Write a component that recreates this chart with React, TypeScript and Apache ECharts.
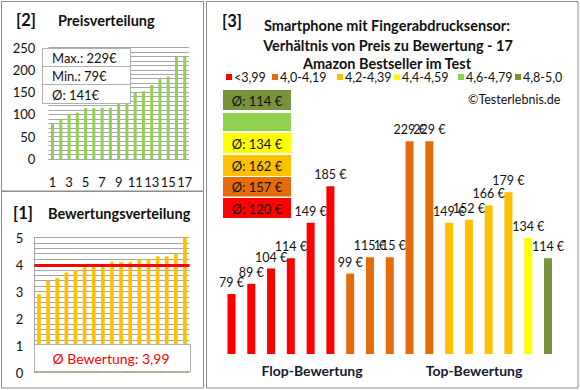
import React, { useEffect, useRef } from "react";
import * as echarts from "echarts";

const positions = ["1","2","3","4","5","6","7","8","9","10","11","12","13","14","15","16","17"];
const sortedPrices = [79, 89, 99, 104, 114, 114, 115, 115, 134, 149, 149, 152, 166, 179, 185, 229, 229];
const sortedRatings = [2.9, 3.4, 3.5, 3.7, 3.8, 3.9, 4.0, 4.0, 4.1, 4.1, 4.1, 4.2, 4.2, 4.3, 4.3, 4.4, 5.0];
const avgRating = 3.99;
const productPrices = [79, 89, 104, 114, 149, 185, 99, 115, 115, 229, 229, 149, 152, 166, 179, 134, 114];
const productGroups = [0, 0, 0, 0, 0, 0, 1, 1, 1, 1, 1, 2, 2, 2, 2, 3, 5];
const groupLabels = ["<3,99", "4,0-4,19", "4,2-4,39", "4,4-4,59", "4,6-4,79", "4,8-5,0"];
const groupColors = ["#FF0000", "#E46C0A", "#FFC000", "#FFFF00", "#92D050", "#77933C"];

const FONT = 'Lato, "Liberation Sans", sans-serif';
const DARK = "#111";
const BORDER = "#8c8c8c";

function groupAvg(g: number): number | null {
  const vals = productPrices.filter((_, i) => productGroups[i] === g);
  if (!vals.length) return null;
  return Math.round(vals.reduce((a, b) => a + b, 0) / vals.length);
}

function buildOption() {
  const maxP = Math.max(...sortedPrices);
  const minP = Math.min(...sortedPrices);
  const avgP = Math.round(sortedPrices.reduce((a, b) => a + b, 0) / sortedPrices.length);

  const graphics: any[] = [];
  const rect = (x: number, y: number, w: number, h: number, fill: string, stroke: string | null, z = 1) => ({
    type: "rect", z, shape: { x, y, width: w, height: h },
    style: { fill, stroke: stroke || undefined, lineWidth: 1 },
  });
  const text = (t: string, x: number, y: number, size: number, opts: any = {}, z = 5) => ({
    type: "text", x, y, z,
    style: {
      text: t, fontSize: size, fontFamily: FONT, fill: opts.fill || DARK,
      fontWeight: opts.bold ? "bold" : "normal", align: opts.align || "left", verticalAlign: "middle",
    },
  });
  graphics.push(rect(1.5, 1.5, 202, 189.5, "none", BORDER, 0));
  graphics.push(rect(1.5, 191.5, 202, 196.5, "none", BORDER, 0));
  graphics.push(rect(206.5, 1.5, 371.5, 386.5, "none", BORDER, 0));

  // left titles
  graphics.push(text("[2]", 16, 20, 16.5, { bold: true }));
  graphics.push(text("Preisverteilung", 58, 20, 14.5, { bold: true }));
  graphics.push(text("[1]", 13, 213, 16.5, { bold: true }));
  graphics.push(text("Bewertungsverteilung", 48, 213, 14.5, { bold: true }));

  // info box price
  graphics.push(rect(42.5, 48.5, 88, 55, "#fff", "#b0b0b0", 50));
  graphics.push({ type: "line", z: 51, shape: { x1: 42.5, y1: 66.5, x2: 130.5, y2: 66.5 }, style: { stroke: "#b0b0b0", lineWidth: 1 } });
  graphics.push({ type: "line", z: 51, shape: { x1: 42.5, y1: 84.5, x2: 130.5, y2: 84.5 }, style: { stroke: "#b0b0b0", lineWidth: 1 } });
  graphics.push(text(`Max.: ${maxP}€`, 52, 58, 13, {}, 52));
  graphics.push(text(`Min.: ${minP}€`, 52, 76, 13, {}, 52));
  graphics.push(text(`Ø: ${avgP}€`, 52, 94.5, 13, {}, 52));

  // rating box
  graphics.push(rect(34.5, 344.5, 156, 27, "#fff", "#b0b0b0", 50));
  graphics.push(text(`Ø Bewertung: ${avgRating.toFixed(2).replace(".", ",")}`, 111, 358.5, 14, { fill: "#FF0000", align: "center" }, 52));

  // right titles
  graphics.push(text("[3]", 222, 21, 16.5, { bold: true }));
  graphics.push(text("Smartphone mit Fingerabdrucksensor:", 387, 25, 14.5, { bold: true, align: "center" }));
  graphics.push(text("Verhältnis von Preis zu Bewertung - 17", 388, 45, 14.5, { bold: true, align: "center" }));
  graphics.push(text("Amazon Bestseller im Test", 387, 63.5, 14.5, { bold: true, align: "center" }));

  // legend
  const legX = [226, 272, 337, 394, 458, 515];
  groupLabels.forEach((lab, i) => {
    graphics.push(rect(legX[i], 74, 6, 6, groupColors[i], null, 5));
    graphics.push(text(lab, legX[i] + 8, 77.5, 12.5));
  });
  graphics.push(text("©Testerlebnis.de", 468, 99, 12.5));

  // average boxes (top-down: highest group first)
  const boxes = [
    { g: 5, y: 90, h: 20 },
    { g: 4, y: 113, h: 18 },
    { g: 3, y: 133, h: 20 },
    { g: 2, y: 155, h: 21 },
    { g: 1, y: 177, h: 19.5 },
    { g: 0, y: 198, h: 20 },
  ];
  boxes.forEach((b) => {
    graphics.push(rect(223, b.y, 68, b.h, groupColors[b.g], null, 5));
    const a = groupAvg(b.g);
    if (a !== null) graphics.push(text(`Ø: ${a} €`, 257, b.y + b.h / 2 + 0.5, 13, { align: "center" }, 6));
  });

  graphics.push(text("Flop-Bewertung", 312, 370, 14, { bold: true, align: "center", fill: "#141a33" }));
  graphics.push(text("Top-Bewertung", 474, 370, 14, { bold: true, align: "center", fill: "#141a33" }));

  const grayLine = { lineStyle: { color: "#a6a6a6", width: 1 } };

  return {
    animation: false,
    backgroundColor: "#fff",
    textStyle: { fontFamily: FONT },
    grid: [
      { left: 48.4, top: 47.5, width: 140.5, height: 111.5 },
      { left: 34.4, top: 237.5, width: 155.1, height: 135 },
      { left: 221.6, top: 120, width: 336.3, height: 234 },
    ],
    xAxis: [
      {
        gridIndex: 0, type: "category", data: positions,
        axisLine: { show: true, lineStyle: { color: "#a6a6a6" } }, axisTick: { show: false },
        axisLabel: { interval: 1, margin: 16, fontSize: 13, color: DARK, fontFamily: FONT },
      },
      { gridIndex: 1, type: "category", data: positions, axisLine: { show: false }, axisTick: { show: false }, axisLabel: { show: false } },
      { gridIndex: 2, type: "category", data: positions, show: false },
    ],
    yAxis: [
      {
        gridIndex: 0, type: "value", min: 0, max: 250, interval: 10,
        axisLine: { show: false }, axisTick: { show: false },
        splitLine: { show: true, ...grayLine },
        axisLabel: { margin: 13, fontSize: 13, color: DARK, fontFamily: FONT, formatter: (v: number) => (v % 50 === 0 ? String(v) : "") },
      },
      {
        gridIndex: 1, type: "value", min: 0, max: 5, interval: 0.2,
        axisLine: { show: true, lineStyle: { color: "#a6a6a6" } }, axisTick: { show: false },
        splitLine: { show: true, ...grayLine },
        axisLabel: {
          margin: 11, fontSize: 13, color: DARK, fontFamily: FONT,
          formatter: (v: number) => (Math.abs(v - Math.round(v)) < 1e-6 ? String(Math.round(v)) : ""),
        },
      },
      { gridIndex: 2, type: "value", min: 20, max: 250, show: false, splitLine: { show: false } },
    ],
    series: [
      {
        type: "bar", xAxisIndex: 0, yAxisIndex: 0, data: sortedPrices, barWidth: 3,
        itemStyle: { color: "#92D050" },
      },
      {
        type: "bar", xAxisIndex: 1, yAxisIndex: 1, data: sortedRatings, barWidth: 3.7,
        itemStyle: { color: "#FFC000" },
        markLine: {
          silent: true, symbol: ["none", "none"], label: { show: false },
          lineStyle: { color: "#FF0000", width: 3, type: "solid" },
          data: [{ yAxis: avgRating }],
        },
      },
      {
        type: "bar", xAxisIndex: 2, yAxisIndex: 2, barWidth: 8,
        data: productPrices.map((v, i) => ({ value: v, itemStyle: { color: groupColors[productGroups[i]] } })),
        label: {
          show: true, position: "top", distance: 5, fontSize: 12.5, color: DARK, fontFamily: FONT,
          formatter: (p: any) => `${p.value} €`,
        },
      },
    ],
    graphic: graphics,
  };
}

export default function App() {
  const ref = useRef<HTMLDivElement>(null);
  useEffect(() => {
    document.body.style.margin = "0";
    const chart = echarts.init(ref.current!, null, { renderer: "svg" });
    chart.setOption(buildOption() as any);
    return () => chart.dispose();
  }, []);
  return <div ref={ref} style={{ position: "absolute", left: 0, top: 0, width: 580, height: 390, background: "#fff" }} />;
}
